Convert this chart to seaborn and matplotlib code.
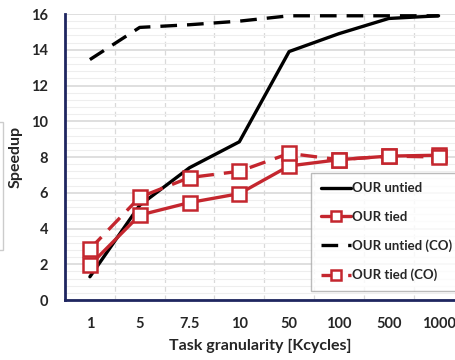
import numpy as np
import pandas as pd
import matplotlib
matplotlib.use("Agg")
import matplotlib.pyplot as plt
import seaborn as sns
from matplotlib.patches import Rectangle
from matplotlib.ticker import MultipleLocator

granularity = ["1", "5", "7.5", "10", "50", "100", "500", "1000"]
our_untied = [1.3, 5.3, 7.4, 8.85, 13.9, 14.9, 15.75, 15.9]
our_tied = [1.95, 4.75, 5.45, 5.95, 7.5, 7.85, 8.05, 8.1]
our_untied_co = [13.45, 15.25, 15.4, 15.6, 15.9, 15.9, 15.9, 15.9]
our_tied_co = [2.85, 5.75, 6.85, 7.2, 8.2, 7.85, 8.05, 8.0]

sns.set_theme(style="white")
plt.rcParams['font.family'] = ['Lato', 'DejaVu Sans']
plt.rcParams['font.weight'] = 'bold'

red = "#c4262e"
navy = "#1f2660"
pos = np.arange(len(granularity))

df = pd.DataFrame({"pos": pos, "untied": our_untied, "tied": our_tied,
                   "untied_co": our_untied_co, "tied_co": our_tied_co})

fig = plt.figure(figsize=(4.55, 3.6), dpi=100)
ax = fig.add_axes([65 / 455, 60 / 360, 390 / 455, 286 / 360])

# gridlines
ax.yaxis.set_major_locator(MultipleLocator(2))
ax.yaxis.set_minor_locator(MultipleLocator(0.4))
ax.grid(True, which='major', axis='y', color="#d9d9d9", lw=1.2)
ax.grid(True, which='minor', axis='y', color="#eeeeee", lw=0.8)
for b in pos[:-1] + 0.5:
    ax.axvline(b, color="#d9d9d9", lw=0.9, ls=(0, (4, 3)), zorder=0)

dash = (0, (5, 3))
sns.lineplot(data=df, x="pos", y="untied", ax=ax, color="black", lw=2.4,
             label="OUR untied")
sns.lineplot(data=df, x="pos", y="tied", ax=ax, color=red, lw=2.4,
             marker="s", markersize=10, markerfacecolor="white",
             markeredgecolor=red, markeredgewidth=1.8, label="OUR tied")
sns.lineplot(data=df, x="pos", y="untied_co", ax=ax, color="black", lw=2.4,
             linestyle=dash, label="OUR untied (CO)")
sns.lineplot(data=df, x="pos", y="tied_co", ax=ax, color=red, lw=2.4,
             linestyle=dash, marker="s", markersize=10, markerfacecolor="white",
             markeredgecolor=red, markeredgewidth=1.8, label="OUR tied (CO)")

ax.set_xlim(-0.5, 7.33)
ax.set_ylim(0, 16)
ax.set_xticks(pos)
ax.set_xticklabels(granularity)
ax.tick_params(axis='both', which='both', length=0, pad=12, labelsize=10.5)
for t in ax.get_xticklabels() + ax.get_yticklabels():
    t.set_fontweight('bold')

ax.set_xlabel("Task granularity [Kcycles]", fontsize=11.5, fontweight='bold', labelpad=6)
ax.set_ylabel("Speedup", fontsize=11.5, fontweight='bold', labelpad=6)

for s in ["top", "right"]:
    ax.spines[s].set_visible(False)
for s in ["left", "bottom"]:
    ax.spines[s].set_color(navy)
    ax.spines[s].set_linewidth(2)

leg = ax.legend(loc="lower left", bbox_to_anchor=(0.615, 0.01), frameon=True,
                fancybox=False, edgecolor="#aaaaaa",
                handlelength=2.3, handletextpad=0.1, labelspacing=1.25,
                borderpad=0.7, markerscale=0.75,
                prop={'weight': 'bold', 'size': 9.5})
leg.get_frame().set_linewidth(1)

# faint leftover box at the left edge
fig.patches.append(Rectangle((-0.01, 110 / 360), 0.017, 128 / 360, transform=fig.transFigure,
                             fill=False, edgecolor="#cccccc", lw=1))

fig.savefig("out.png", dpi=100)
